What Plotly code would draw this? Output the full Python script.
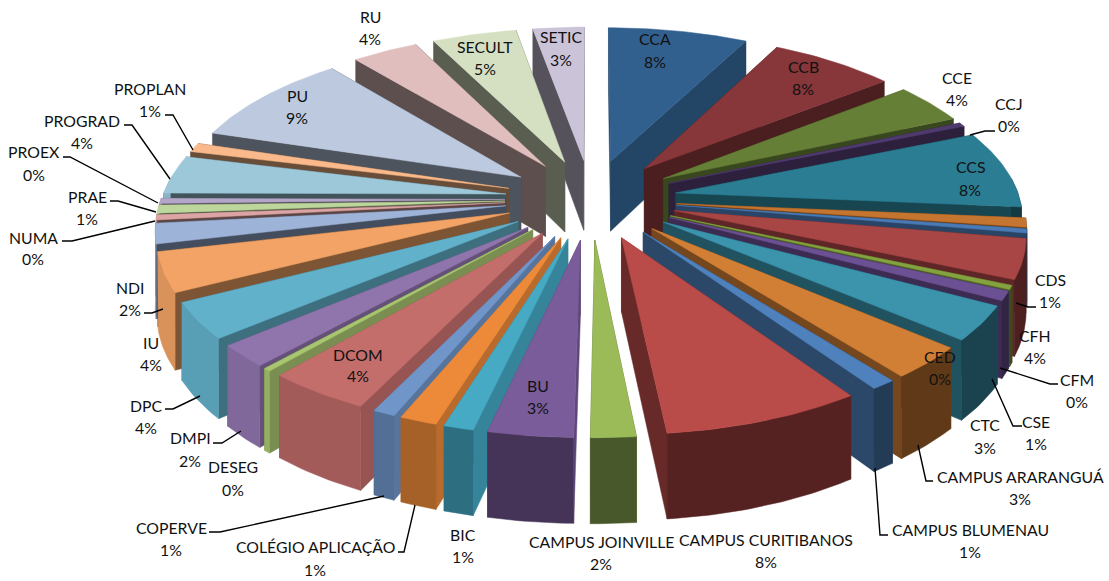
import numpy as np
import plotly.graph_objects as go

categories = ["CCA","CCB","CCE","CCJ","CCS","CDS","CED","CFH","CFM","CSE","CTC",
              "CAMPUS ARARANGUÁ","CAMPUS BLUMENAU","CAMPUS CURITIBANOS","CAMPUS JOINVILLE",
              "BU","BIC","COLÉGIO APLICAÇÃO","COPERVE","DCOM","DESEG","DMPI","DPC","IU","NDI",
              "NUMA","PRAE","PROEX","PROGRAD","PROPLAN","PU","RU","SECULT","SETIC"]
values = [7.6,6.8,4.0,0.4,7.7,0.9,0.4,3.9,0.4,0.9,3.4,3.2,1.0,8.0,1.8,3.4,1.2,1.5,0.9,4.2,
          0.3,2.2,3.6,3.9,2.0,0.5,0.8,0.5,3.8,0.9,9.3,3.6,4.6,2.8]
percent_labels = ["8%","8%","4%","0%","8%","1%","0%","4%","0%","1%","3%","3%","1%","8%","2%",
                  "3%","1%","1%","1%","4%","0%","2%","4%","4%","2%","0%","1%","0%","4%","1%",
                  "9%","4%","5%","3%"]

top_colors = ["#31608f","#87363a","#667f36","#4f3a6e","#2a7d92","#c4752f",
              "#4a7ab5","#a84545","#84a340","#6c5094","#3b93ac","#d27f36",
              "#4f81bd","#b94b49","#9bbb59","#7a5c9a","#46aac5","#ed8a3a",
              "#7095c8","#c46e6c","#a8c56f","#8f75ac","#62b1cb","#f2a365",
              "#9db3d8","#dca5a4","#bdd69b","#b3a6c9","#9cc8da","#f9b98a",
              "#bcc9de","#e0bebe","#d5e0c3","#cbc4d9"]

# pixel-space anchors of the text: category -> (x, name y, percent y)
label_pos = {"CCA":(655,38,61),"CCB":(803,66,88),"CCE":(957,77,99),"CCJ":(1009,103,125),
    "CCS":(970,166,189),"CDS":(1050,279,301),"CED":(940,356,378),"CFH":(1035,335,357),
    "CFM":(1077,379,401),"CSE":(1036,421,443),"CTC":(985,424,447),
    "CAMPUS ARARANGUÁ":(1020,476,498),"CAMPUS BLUMENAU":(970,529,551),
    "CAMPUS CURITIBANOS":(766,539,561),"CAMPUS JOINVILLE":(601,541,563),"BU":(538,385,407),
    "BIC":(463,534,556),"COLÉGIO APLICAÇÃO":(315,546,569),"COPERVE":(171,527,549),
    "DCOM":(358,354,375),"DESEG":(233,466,489),"DMPI":(190,437,460),"DPC":(146,405,427),
    "IU":(151,342,364),"NDI":(130,287,309),"NUMA":(33,237,258),"PRAE":(87,196,218),
    "PROEX":(34,151,174),"PROGRAD":(82,120,142),"PROPLAN":(150,88,110),"PU":(297,95,117),
    "RU":(370,16,38),"SECULT":(485,46,68),"SETIC":(561,36,59)}

leaders = [[(995,131),(985,131),(970,135)],
           [(1036,307),(1028,307),(1016,303)],[(1058,384),(1050,384),(1000,368)],
           [(1022,426),(1013,426),(992,379)],[(933,481),(926,481),(918,445)],
           [(888,535),(880,535),(875,468)],[(398,552),(404,552),(415,505)],
           [(209,532),(220,532),(384,496)],[(213,443),(222,443),(241,431)],
           [(165,409),(173,409),(200,396)],[(144,313),(152,313),(163,309)],
           [(62,241),(72,241),(155,221)],[(110,201),(118,201),(156,212)],
           [(63,157),(70,157),(158,203)],[(124,125),(132,125),(170,179)],
           [(165,115),(173,115),(193,150)]]

CX, CY, RX, RY, PERSP, EXPLODE, DEPTH = 591, 199, 344, 160, 0.13, 0.25, 72


def project(wx, wy, wz=0.0):
    s = 1 / (1 + PERSP * wy)
    return CX + RX * wx * s, CY - RY * wy * s + DEPTH * wz * s


def shade(color, f):
    r, g, b = [int(color[i:i + 2], 16) for i in (1, 3, 5)]
    return f"rgb({int(r*f)},{int(g*f)},{int(b*f)})"


fractions = np.array(values) / np.sum(values)
ends = np.cumsum(fractions) * 2 * np.pi
starts = ends - fractions * 2 * np.pi
mids = (starts + ends) / 2
fig = go.Figure()


def poly(xs, ys, color):
    fig.add_trace(go.Scatter(x=list(xs) + [xs[0]], y=list(ys) + [ys[0]], mode="lines", fill="toself",
                             fillcolor=color, line=dict(color=color, width=0.5), hoverinfo="skip",
                             showlegend=False))


order = np.argsort(-np.cos(mids))
for i in order:
    a0, a1, m = starts[i], ends[i], mids[i]
    ox, oy = EXPLODE * np.sin(m), EXPLODE * np.cos(m)
    th = np.linspace(a0, a1, max(3, int((a1 - a0) * 60)))
    wx, wy = ox + np.sin(th), oy + np.cos(th)
    tx, ty = project(wx, wy, 0)
    bx, by = project(wx, wy, 1)
    ax_t, ay_t = project(ox, oy, 0)
    ax_b, ay_b = project(ox, oy, 1)
    col = top_colors[i]
    X, Y = np.sin(m), np.cos(m)
    outer = float(np.clip(0.5 - 0.6 * X, 0.46, 0.9))
    if X < 0:
        radial = float(np.clip(0.35 - 0.5 * Y, 0.42, 0.78))
    else:
        radial = 0.72 if Y > 0.95 else 0.56
    # radial walls
    poly([ax_t, tx[0], bx[0], ax_b], [ay_t, ty[0], by[0], ay_b], shade(col, radial))
    poly([ax_t, tx[-1], bx[-1], ax_b], [ay_t, ty[-1], by[-1], ay_b], shade(col, radial))
    # outer wall: only the part of the rim that faces the viewer
    front = np.cos(th) < 0.1
    if front.sum() >= 2:
        fx, fy, gx, gy = tx[front], ty[front], bx[front], by[front]
        poly(list(fx) + list(gx[::-1]), list(fy) + list(gy[::-1]), shade(col, outer))
    # top face
    poly([ax_t] + list(tx), [ay_t] + list(ty), col)

for pts in leaders:
    fig.add_trace(go.Scatter(x=[p[0] for p in pts], y=[p[1] for p in pts], mode="lines",
                             line=dict(color="black", width=1.4), hoverinfo="skip", showlegend=False))

annotations = []
for name, pct in zip(categories, percent_labels):
    x, y1, y2 = label_pos[name]
    for text, y in ((name, y1), (pct, y2)):
        annotations.append(dict(x=x, y=y, text=text, showarrow=False, xanchor="center", yanchor="middle",
                                font=dict(family="Lato", size=15.8, color="#111111")))

fig.update_layout(width=1109, height=581, margin=dict(l=0, r=0, t=0, b=0), paper_bgcolor="white",
                  plot_bgcolor="white", showlegend=False, annotations=annotations,
                  xaxis=dict(range=[0, 1109], visible=False, fixedrange=True),
                  yaxis=dict(range=[581, 0], visible=False, fixedrange=True))
fig.write_html("out.html", config=dict(displayModeBar=False),
               post_script="document.body.style.margin='0';document.documentElement.style.overflow='hidden';")
